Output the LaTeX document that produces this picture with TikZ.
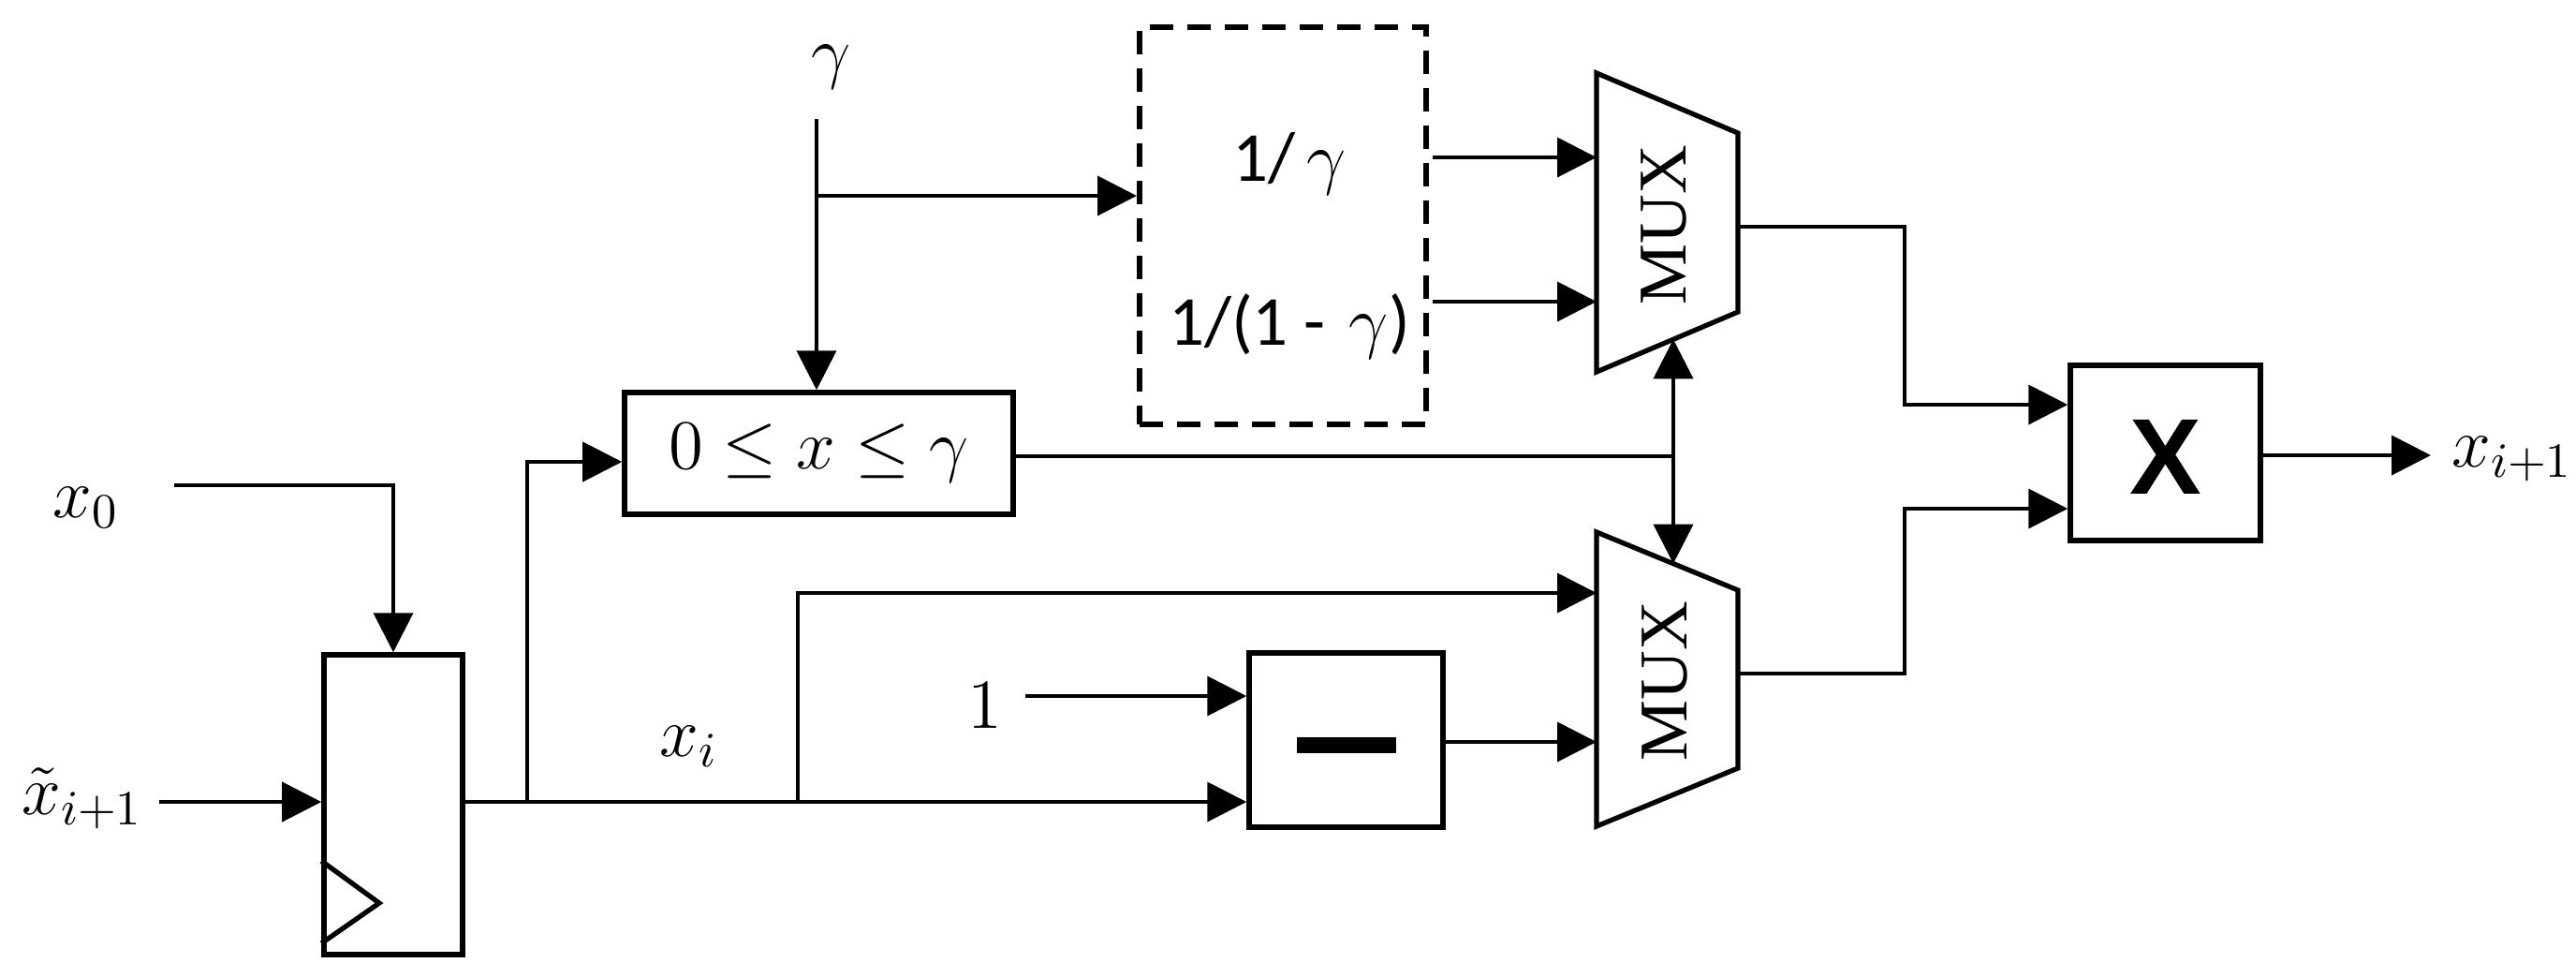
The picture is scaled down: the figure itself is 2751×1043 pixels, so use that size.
\RequirePackage{fix-cm}
\documentclass[tikz,border=0pt]{standalone}
\usepackage{fontspec}
\newfontfamily\carl{Carlito}
\newfontfamily\muxfont{Liberation Serif}
\newfontfamily\xfont{Liberation Sans}
\usetikzlibrary{arrows.meta,calc}
\begin{document}
\begin{tikzpicture}[x=0.2pt,y=-0.2pt,
  wire/.style={line width=0.8pt},
  arr/.style={wire,-{Triangle[length=8.4pt,width=8.4pt]}},
  dblarr/.style={wire,{Triangle[length=8.4pt,width=8.4pt]}-{Triangle[length=8.4pt,width=8.4pt]}},
  box/.style={draw,line width=1.1pt,inner sep=0pt},
  dbox/.style={draw,line width=1.2pt,dash pattern=on 5pt off 3pt,inner sep=0pt},
  muxshape/.style={draw,line width=1.05pt,line join=miter},
  lbl/.style={inner sep=0pt,font=\fontsize{15}{18}\selectfont},
  muxlbl/.style={inner sep=0pt,rotate=90,font=\muxfont\fontsize{14.6}{17}\selectfont},
]
\useasboundingbox (0,0) rectangle (2751,1043);

% ---- boxes ----
\node[box,minimum width=83pt,minimum height=26pt,font=\fontsize{15}{18}\selectfont] (cmp) at (874.5,484) {$0\leq x\leq\gamma$};
\node[box,minimum width=29.6pt,minimum height=64pt] (reg) at (420,859) {};
\node[dbox,minimum width=61.2pt,minimum height=84.8pt] (dbox) at (1370,241) {};
\node[box,minimum width=41.4pt,minimum height=37.2pt] (minus) at (1437.5,790) {};
\node[fill=black,inner sep=0pt,minimum width=21.2pt,minimum height=3.4pt] (bar) at (1438,795) {};
\node[box,minimum width=40.6pt,minimum height=37.4pt] (xbox) at (2312.5,483.5) {};
\node[inner sep=0pt,font=\xfont\bfseries\fontsize{23}{26}\selectfont] (xsym) at (2313,488) {X};

% clock triangle
\draw[line width=1.05pt,line join=miter] (reg.west |- 0,919) -- (405,964) -- (reg.west |- 0,1007);

% ---- MUXes ----
\coordinate (m1tl) at (1705,78);
\coordinate (m1tr) at (1856,142);
\coordinate (m1br) at (1856,333);
\coordinate (m1bl) at (1705,397);
\draw[muxshape] (m1tl) -- (m1tr) -- (m1br) -- (m1bl) -- cycle;
\node[muxlbl] (mux1) at (1777,240) {MUX};

\coordinate (m2tl) at (1705,568);
\coordinate (m2tr) at (1856,630);
\coordinate (m2br) at (1856,820);
\coordinate (m2bl) at (1705,882);
\draw[muxshape] (m2tl) -- (m2tr) -- (m2br) -- (m2bl) -- cycle;
\node[muxlbl] (mux2) at (1778,727) {MUX};

% ---- labels ----
\node[lbl] (x0) at (92,542) {$x_0$};
\node[lbl] (xt) at (88,852) {$\tilde{x}_{i+1}$};
\node[lbl] (xi) at (736,797) {$x_i$};
\node[lbl] (gam) at (888,72) {$\gamma$};
\node[lbl] (one) at (1052,753) {$1$};
\node[lbl] (xout) at (2683,490) {$x_{i+1}$};
\node[inner sep=0pt,font=\carl\fontsize{15}{18}\selectfont] (inv1) at (1377,175) {1/\,$\gamma$};
\node[inner sep=0pt,font=\carl\fontsize{15}{18}\selectfont] (inv2) at (1377,348) {1/(1 -\,\,$\gamma$)};

% ---- free ends ----
\coordinate (x0s) at (186,518);
\coordinate (xts) at (170,856);
\coordinate (gs) at (872,127);
\coordinate (gb) at (872,209);
\coordinate (b1) at (563,856);
\coordinate (b2) at (852,856);
\coordinate (ones) at (1095,743);
\coordinate (d1) at (1530,168);
\coordinate (d2) at (1530,322);
\coordinate (cj) at (1787,487);
\coordinate (xe) at (2596,486);

% ---- connectors ----
\draw[arr] (x0s) -| (reg.north);
\draw[arr] (xts) -- (xts -| reg.west);
\draw[arr] (reg.east |- xts) -- (minus.west |- xts);
\draw[arr] (b1) |- (cmp.west |- 0,493);
\draw[arr] (b2) |- (m2tl |- 0,633);
\draw[arr] (gs) -- (gs |- cmp.north);
\draw[arr] (gb) -- (gb -| dbox.west);
\draw[arr] (d1) -- (d1 -| m1tl);
\draw[arr] (d2) -- (d2 -| m1tl);
\draw[arr] (ones) -- (ones -| minus.west);
\draw[arr] (minus.east |- 0,792) -- (m2tl |- 0,792);
\draw[wire] (cmp.east |- cj) -- (cj);
\draw[dblarr] ($(m1bl)!0.543!(m1br)$) -- ($(m2tl)!0.543!(m2tr)$);
\draw[arr] (m1tr |- 0,242) -- (2034,242) |- (xbox.west |- 0,432);
\draw[arr] (m2tr |- 0,719) -- (2034,719) |- (xbox.west |- 0,543);
\draw[arr] (xbox.east |- xe) -- (xe);
\end{tikzpicture}
\end{document}
